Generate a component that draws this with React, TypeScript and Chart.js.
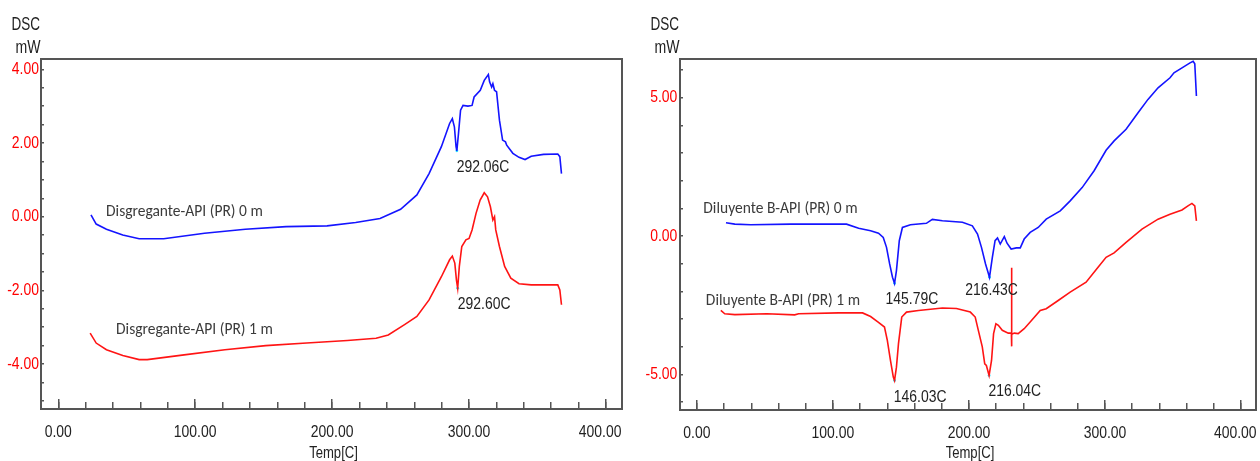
import React, { useEffect, useRef } from "react";
import { Chart, registerables } from "chart.js";

Chart.register(...registerables);

// ---------- data: left panel (Disgregante-API) ----------
const leftBlueTemp = [23.9, 27.7, 35.2, 47.1, 59.1, 77, 106.8, 136.6, 166.4, 196.3, 217.2, 235, 250, 261.9, 270.8, 279.8, 285.8, 287.8, 289.3, 290.5, 291.1, 292.3, 293.8, 295.6, 299.2, 302.2, 303.7, 308.2, 311.1, 314.1, 315, 316.5, 317.4, 318.6, 320.1, 322.2, 324.5, 326.6, 327.5, 332, 336.5, 340.9, 345.4, 354.4, 364.8, 366.3, 367.5];
const leftBlueDSC = [0.05, -0.2, -0.34, -0.5, -0.6, -0.6, -0.45, -0.34, -0.27, -0.25, -0.16, -0.05, 0.2, 0.59, 1.17, 1.9, 2.53, 2.66, 2.44, 1.9, 1.79, 2.26, 2.89, 3.02, 3.0, 3.02, 3.25, 3.43, 3.7, 3.86, 3.66, 3.52, 3.61, 3.43, 3.39, 2.62, 2.08, 2.03, 1.94, 1.72, 1.61, 1.55, 1.64, 1.69, 1.7, 1.63, 1.17];
const leftRedTemp = [23.3, 27.7, 35.2, 47.1, 59.1, 65, 91.9, 121.7, 151.5, 181.4, 211.2, 232.1, 241, 252.9, 261.9, 270.8, 279.8, 285.8, 287.8, 289.6, 290.8, 291.7, 292.9, 294.7, 297.7, 300, 302.2, 305.1, 308.1, 311.1, 313.5, 315.6, 317.4, 318.6, 319.5, 322.2, 326, 330.5, 336.5, 345.4, 364.8, 366.3, 367.5];
const leftRedDSC = [-3.16, -3.43, -3.61, -3.77, -3.88, -3.88, -3.75, -3.61, -3.5, -3.43, -3.36, -3.3, -3.21, -2.93, -2.71, -2.26, -1.63, -1.17, -1.07, -1.26, -1.72, -1.94, -1.35, -0.81, -0.63, -0.59, -0.36, 0.09, 0.45, 0.65, 0.54, 0.27, -0.09, 0, -0.36, -0.81, -1.35, -1.67, -1.82, -1.85, -1.85, -1.99, -2.39];
const leftPeakTemp = [291.1, 291.7];
const leftPeakDSC = [1.79, -1.94];

// ---------- data: right panel (Diluyente B-API) ----------
const rightBlueTemp = [21.4, 27.9, 39.6, 69, 110, 118.9, 127.7, 133.5, 137, 139.4, 141.7, 143.8, 145.3, 146.7, 148.8, 151.1, 157, 168.7, 173.1, 180.5, 195.2, 202.5, 206.3, 209.2, 212.2, 215.1, 217.2, 219.2, 221, 223, 226, 228, 231, 234.8, 237.7, 240.6, 245, 250.9, 256.8, 267.1, 274.4, 283.2, 292, 300.8, 306.7, 315.5, 324.3, 331.6, 339, 347.8, 350.7, 356.6, 362.5, 364.8, 366, 367.2];
const rightBlueDSC = [0.48, 0.43, 0.41, 0.43, 0.43, 0.28, 0.19, 0.1, -0.05, -0.41, -1.01, -1.49, -1.71, -1.25, -0.17, 0.31, 0.41, 0.46, 0.6, 0.55, 0.5, 0.37, 0.07, -0.41, -1.01, -1.49, -0.77, -0.17, -0.07, -0.29, -0.02, -0.26, -0.47, -0.43, -0.43, -0.11, 0.13, 0.31, 0.61, 0.91, 1.27, 1.75, 2.36, 3.1, 3.44, 3.86, 4.46, 4.94, 5.36, 5.72, 5.9, 6.08, 6.26, 6.32, 6.23, 5.06];
const rightRedTemp = [17.6, 20.5, 27.9, 51.4, 71.9, 74.8, 104.2, 121.8, 127.7, 133.5, 137.9, 140, 142.3, 144.4, 145.3, 146.7, 148.2, 150.6, 154.1, 162.9, 180.5, 190.8, 201, 204.6, 206.9, 209.8, 211.6, 212.8, 214.8, 216.6, 218.1, 219.8, 221.6, 224.5, 228.9, 231.2, 231.3, 231.4, 231.5, 233.3, 236.2, 240.6, 245, 252.4, 256.8, 265.6, 274.4, 286.1, 294.9, 300.8, 306.7, 315.5, 327.2, 339, 347.8, 356.6, 361, 363.9, 366, 367.2];
const rightRedDSC = [-2.69, -2.81, -2.84, -2.81, -2.85, -2.81, -2.78, -2.78, -2.91, -3.12, -3.29, -3.77, -4.5, -5.1, -5.22, -4.74, -3.89, -2.93, -2.75, -2.69, -2.6, -2.62, -2.75, -2.93, -3.41, -4.01, -4.62, -4.68, -5.04, -4.5, -3.53, -3.17, -3.23, -3.41, -3.51, -3.51, -1.15, -3.99, -3.55, -3.51, -3.53, -3.35, -3.11, -2.69, -2.63, -2.33, -2.03, -1.67, -1.13, -0.77, -0.61, -0.23, 0.25, 0.61, 0.79, 0.94, 1.09, 1.18, 1.09, 0.55];
const rightPeakTemp = [145.3, 215.1, 145.3, 214.8];
const rightPeakDSC = [-1.71, -1.49, -5.22, -5.04];

// ---------- ticks ----------
const xMajorTicks = [0, 100, 200, 300, 400];
const xMinorTicks = [0, 20, 40, 60, 80, 100, 120, 140, 160, 180, 200, 220, 240, 260, 280, 300, 320, 340, 360, 380, 400];
const leftYTicks = [-5, -4.5, -4, -3.5, -3, -2.5, -2, -1.5, -1, -0.5, 0, 0.5, 1, 1.5, 2, 2.5, 3, 3.5, 4];
const leftYLabeled = [-4, -2, 0, 2, 4];
const rightYTicks = [-6, -5, -4, -3, -2, -1, 0, 1, 2, 3, 4, 5, 6];
const rightYLabeled = [-5, 0, 5];

// ---------- text ----------
const xTitle = "Temp[C]";
const yTitle = ["DSC", "mW"];
const leftSeriesNames = ["Disgregante-API (PR) 0 m", "Disgregante-API (PR) 1 m"];
const rightSeriesNames = ["Diluyente B-API (PR) 0 m", "Diluyente B-API (PR) 1 m"];
const leftPeakLabels = ["292.06C", "292.60C"];
const rightPeakLabels = ["145.79C", "216.43C", "146.03C", "216.04C"];

const SANS = '"Liberation Sans", Arial, sans-serif';
const CALIBRI = 'Carlito, Calibri, Lato, sans-serif';
const NARROW_FACTOR = 0.82;
const AXIS_COLOR = "#555555";
const TEXT_COLOR = "#222222";

type Note = { text: string; x: number; y: number; kind: "series" | "peak" };

const leftNotes: Note[] = [
  { text: leftSeriesNames[0], x: 34.9, y: 0.01, kind: "series" },
  { text: leftSeriesNames[1], x: 42.2, y: -3.19, kind: "series" },
  { text: leftPeakLabels[0], x: 291.0, y: 1.22, kind: "peak" },
  { text: leftPeakLabels[1], x: 291.8, y: -2.51, kind: "peak" },
];
const rightNotes: Note[] = [
  { text: rightSeriesNames[0], x: 4.75, y: 0.82, kind: "series" },
  { text: rightSeriesNames[1], x: 6.6, y: -2.51, kind: "series" },
  { text: rightPeakLabels[0], x: 138.7, y: -2.46, kind: "peak" },
  { text: rightPeakLabels[1], x: 197.2, y: -2.13, kind: "peak" },
  { text: rightPeakLabels[2], x: 144.8, y: -5.99, kind: "peak" },
  { text: rightPeakLabels[3], x: 214.3, y: -5.78, kind: "peak" },
];

const pts = (xs: number[], ys: number[]) => xs.map((x, i) => ({ x, y: ys[i] }));

function narrowText(ctx: CanvasRenderingContext2D, text: string, x: number, y: number, factor = NARROW_FACTOR) {
  const w = ctx.measureText(text).width;
  ctx.fillText(text, x, y, w * factor);
}

// Condense the library's own tick labels (Arial-Narrow look) before the scales draw them.
const narrowTicksPlugin = {
  id: "narrowTicks",
  beforeDraw(chart: any) {
    const ctx = chart.ctx as CanvasRenderingContext2D;
    ctx.save();
    for (const id of Object.keys(chart.scales)) {
      const scale = chart.scales[id];
      if (!scale.options.ticks.display || !scale.getLabelItems) continue;
      const items = scale.getLabelItems(chart.chartArea);
      for (const it of items) {
        ctx.font = it.font.string;
        const w = ctx.measureText(String(it.label)).width;
        if (w > 0) it.options.maxWidth = w * NARROW_FACTOR;
      }
    }
    ctx.restore();
  },
};

const notesPlugin = {
  id: "dscNotes",
  afterDraw(chart: any) {
    const opts = chart.options.plugins.dscNotes;
    const { ctx, chartArea } = chart;
    const xs = chart.scales.x;
    const ys = chart.scales.y;
    ctx.save();
    ctx.fillStyle = TEXT_COLOR;
    // axis titles
    ctx.font = `18px ${SANS}`;
    ctx.textAlign = "right";
    ctx.textBaseline = "alphabetic";
    ctx.fillText(yTitle[0], chartArea.left - 1, 30, 28.5);
    ctx.fillText(yTitle[1], chartArea.left - 0.5, 52.5, 25);
    ctx.font = `17px ${SANS}`;
    ctx.textAlign = "center";
    narrowText(ctx, xTitle, (xs.left + xs.right) / 2 + 2, 457.5, 0.77);
    // annotations
    ctx.textAlign = "left";
    for (const n of opts.notes as Note[]) {
      const px = xs.getPixelForValue(n.x);
      const py = ys.getPixelForValue(n.y);
      if (n.kind === "series") {
        ctx.font = `15.5px ${CALIBRI}`;
        ctx.fillStyle = "#3b3b3b";
        ctx.fillText(n.text, px, py);
      } else {
        ctx.font = `17px ${SANS}`;
        ctx.fillStyle = TEXT_COLOR;
        narrowText(ctx, n.text, px, py);
      }
    }
    ctx.restore();
  },
};

function makeConfig(p: {
  blue: { x: number; y: number }[];
  red: { x: number; y: number }[];
  peaks: { x: number; y: number }[];
  xMin: number; xMax: number; yMin: number; yMax: number;
  yTicks: number[]; yLabeled: number[];
  yAxisWidth: number; xAxisHeight: number;
  padRight: number; padTop: number; yLabelPad: number;
  notes: Note[];
}) {
  const fixX = (h: number) => (s: any) => { s.height = h; s.paddingLeft = 0; s.paddingRight = 0; };
  const fixY = (w: number) => (s: any) => { s.width = w; s.paddingTop = 0; s.paddingBottom = 0; };
  return {
    type: "line" as const,
    data: {
      datasets: [
        { data: p.blue, borderColor: "#1414ff", borderWidth: 1.6, pointRadius: 0, fill: false, tension: 0 },
        { data: p.red, borderColor: "#ff1414", borderWidth: 1.6, pointRadius: 0, fill: false, tension: 0 },
        { data: p.peaks, showLine: false, pointRadius: 1.4, pointBorderWidth: 0, pointBackgroundColor: "#22e0ff", borderColor: "#22e0ff" },
      ],
    },
    options: {
      animation: false as const,
      responsive: false,
      devicePixelRatio: 1,
      events: [] as any[],
      layout: { padding: { left: 0, top: p.padTop, right: p.padRight, bottom: 0 } },
      plugins: {
        legend: { display: false },
        tooltip: { enabled: false },
        dscNotes: { notes: p.notes },
      },
      scales: {
        x: {
          type: "linear" as const, position: "bottom" as const, weight: 1,
          min: p.xMin, max: p.xMax,
          afterBuildTicks: (s: any) => { s.ticks = xMajorTicks.map((v) => ({ value: v })); },
          afterFit: fixX(p.xAxisHeight),
          ticks: {
            autoSkip: false, maxRotation: 0, minRotation: 0, padding: 23,
            color: TEXT_COLOR, font: { family: SANS, size: 17 },
            callback: (v: any) => (v === 400 ? Number(v).toFixed(2) + "\u00a0\u00a0\u00a0" : Number(v).toFixed(2)),
          },
          grid: { drawOnChartArea: false, drawTicks: true, tickLength: -10, color: AXIS_COLOR, lineWidth: 1.5 },
          border: { display: true, color: AXIS_COLOR, width: 2 },
        },
        xm: {
          type: "linear" as const, position: "bottom" as const, weight: 0,
          min: p.xMin, max: p.xMax,
          afterBuildTicks: (s: any) => { s.ticks = xMinorTicks.map((v) => ({ value: v })); },
          afterFit: fixX(0),
          ticks: { display: false, autoSkip: false },
          grid: { drawOnChartArea: false, drawTicks: true, tickLength: -7, color: AXIS_COLOR, lineWidth: 1.5 },
          border: { display: false },
        },
        xt: {
          type: "linear" as const, position: "top" as const,
          min: p.xMin, max: p.xMax,
          afterFit: fixX(0),
          ticks: { display: false },
          grid: { drawOnChartArea: false, drawTicks: false },
          border: { display: true, color: AXIS_COLOR, width: 2 },
        },
        y: {
          type: "linear" as const, position: "left" as const,
          min: p.yMin, max: p.yMax,
          afterBuildTicks: (s: any) => { s.ticks = p.yTicks.map((v) => ({ value: v })); },
          afterFit: fixY(p.yAxisWidth),
          ticks: {
            autoSkip: false, padding: p.yLabelPad,
            color: "#ff0000", font: { family: SANS, size: 17 },
            callback: (v: any) => (p.yLabeled.includes(Number(v)) ? Number(v).toFixed(2) : ""),
          },
          grid: { drawOnChartArea: false, drawTicks: true, tickLength: -3, color: AXIS_COLOR, lineWidth: 1.5 },
          border: { display: true, color: AXIS_COLOR, width: 2 },
        },
        yr: {
          type: "linear" as const, position: "right" as const,
          min: p.yMin, max: p.yMax,
          afterFit: fixY(0),
          ticks: { display: false },
          grid: { drawOnChartArea: false, drawTicks: false },
          border: { display: true, color: AXIS_COLOR, width: 2 },
        },
      },
    },
    plugins: [narrowTicksPlugin, notesPlugin],
  };
}

function DSCPanel(props: { config: any; left: number; width: number }) {
  const ref = useRef<HTMLCanvasElement | null>(null);
  useEffect(() => {
    if (!ref.current) return;
    const chart = new Chart(ref.current, props.config);
    return () => chart.destroy();
  }, []);
  return (
    <canvas
      ref={ref}
      width={props.width}
      height={461}
      style={{ position: "absolute", left: props.left, top: 0, width: props.width, height: 461 }}
    />
  );
}

export default function App() {
  const leftConfig = makeConfig({
    blue: pts(leftBlueTemp, leftBlueDSC),
    red: pts(leftRedTemp, leftRedDSC),
    peaks: pts(leftPeakTemp, leftPeakDSC),
    xMin: -12.6, xMax: 411.7, yMin: -5.22, yMax: 4.28,
    yTicks: leftYTicks, yLabeled: leftYLabeled,
    yAxisWidth: 41, xAxisHeight: 52, padRight: 8, padTop: 59, yLabelPad: 5,
    notes: leftNotes,
  });
  const rightConfig = makeConfig({
    blue: pts(rightBlueTemp, rightBlueDSC),
    red: pts(rightRedTemp, rightRedDSC),
    peaks: pts(rightPeakTemp, rightPeakDSC),
    xMin: -12.4, xMax: 411, yMin: -6.29, yMax: 6.4,
    yTicks: rightYTicks, yLabeled: rightYLabeled,
    yAxisWidth: 50, xAxisHeight: 51, padRight: 1, padTop: 59, yLabelPad: 5.7,
    notes: rightNotes,
  });
  return (
    <div style={{ position: "absolute", left: 0, top: 0, width: 1260, height: 461, background: "#ffffff", overflow: "hidden" }}>
      <DSCPanel config={leftConfig} left={0} width={630} />
      <DSCPanel config={rightConfig} left={630} width={630} />
    </div>
  );
}
